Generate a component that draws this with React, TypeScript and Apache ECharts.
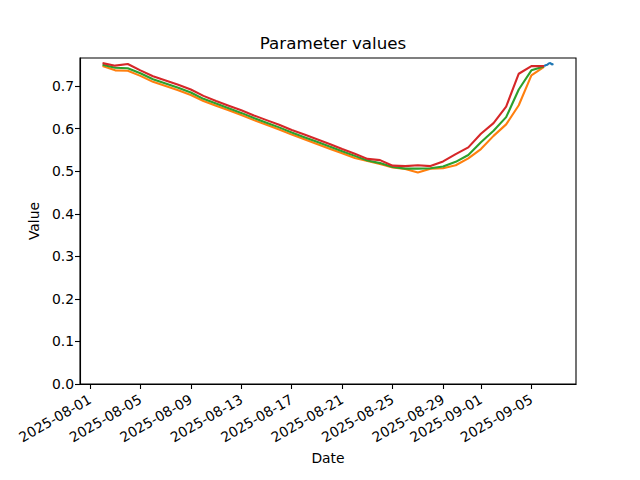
import React, { useEffect, useRef } from "react";
import * as echarts from "echarts";

const dates = [
  "2025-08-02", "2025-08-03", "2025-08-04", "2025-08-05", "2025-08-06", "2025-08-07",
  "2025-08-08", "2025-08-09", "2025-08-10", "2025-08-11", "2025-08-12", "2025-08-13",
  "2025-08-14", "2025-08-15", "2025-08-16", "2025-08-17", "2025-08-18", "2025-08-19",
  "2025-08-20", "2025-08-21", "2025-08-22", "2025-08-23", "2025-08-24", "2025-08-25",
  "2025-08-26", "2025-08-27", "2025-08-28", "2025-08-29", "2025-08-30", "2025-08-31",
  "2025-09-01", "2025-09-02", "2025-09-03", "2025-09-04", "2025-09-05", "2025-09-06",
];

const redValues = [
  0.754, 0.748, 0.752, 0.737, 0.723, 0.713, 0.703, 0.692, 0.677, 0.665, 0.654, 0.643,
  0.631, 0.620, 0.609, 0.597, 0.586, 0.575, 0.564, 0.552, 0.541, 0.529, 0.526, 0.513,
  0.512, 0.514, 0.512, 0.523, 0.540, 0.556, 0.588, 0.613, 0.652, 0.729, 0.747, 0.747,
];

const greenValues = [
  0.750, 0.743, 0.742, 0.730, 0.716, 0.706, 0.696, 0.685, 0.670, 0.659, 0.648, 0.637,
  0.625, 0.614, 0.603, 0.591, 0.580, 0.569, 0.558, 0.547, 0.536, 0.525, 0.519, 0.510,
  0.506, 0.506, 0.507, 0.511, 0.522, 0.538, 0.568, 0.595, 0.627, 0.692, 0.737, 0.746,
];

const orangeValues = [
  0.747, 0.737, 0.736, 0.724, 0.710, 0.700, 0.690, 0.679, 0.665, 0.654, 0.643, 0.632,
  0.620, 0.609, 0.598, 0.586, 0.575, 0.564, 0.553, 0.542, 0.531, 0.524, 0.517, 0.509,
  0.505, 0.497, 0.506, 0.507, 0.514, 0.530, 0.552, 0.583, 0.610, 0.655, 0.725, 0.745,
];

const blueTimes = [
  "2025-09-06 00:00", "2025-09-06 03:00", "2025-09-06 06:00", "2025-09-06 09:00",
  "2025-09-06 12:00", "2025-09-06 15:00", "2025-09-06 18:00",
];
const blueValues = [0.747, 0.749, 0.750, 0.753, 0.754, 0.751, 0.752];

const xTickLabels = [
  "2025-08-01", "2025-08-05", "2025-08-09", "2025-08-13", "2025-08-17",
  "2025-08-21", "2025-08-25", "2025-08-29", "2025-09-01", "2025-09-05",
];

const xAxisMin = "2025-07-31 05:06";
const xAxisMax = "2025-09-08 12:54";
const yAxisMin = 0;
const yAxisMax = 0.766;

function parseTime(s: string): number {
  const [datePart, timePart] = s.split(" ");
  const [y, m, d] = datePart.split("-").map(Number);
  let h = 0;
  let mi = 0;
  if (timePart) {
    [h, mi] = timePart.split(":").map(Number);
  }
  return new Date(y, m - 1, d, h, mi).getTime();
}

function pad(n: number) {
  return n < 10 ? "0" + n : "" + n;
}

const FONT = "DejaVu Sans";

export default function App() {
  const ref = useRef<HTMLDivElement>(null);

  useEffect(() => {
    if (!ref.current) return;
    const chart = echarts.init(ref.current, undefined, { renderer: "svg" });
    const pairs = (ts: string[], vs: number[]) => ts.map((t, i) => [parseTime(t), vs[i]]);
    const tickValues = xTickLabels.map(parseTime);

    const lineStyle = (color: string) => ({ color, width: 2.1 });

    chart.setOption({
      animation: false,
      backgroundColor: "#ffffff",
      textStyle: { fontFamily: FONT },
      title: {
        text: "Parameter values",
        left: 328,
        top: 29,
        textAlign: "center",
        textStyle: { fontFamily: FONT, fontSize: 16.7, fontWeight: "normal", color: "#000" },
      },
      grid: {
        left: 80,
        right: 64,
        top: 58,
        bottom: 96,
        show: true,
        borderColor: "#000",
        borderWidth: 1.1,
        backgroundColor: "transparent",
      },
      xAxis: {
        type: "value",
        min: parseTime(xAxisMin),
        max: parseTime(xAxisMax),
        name: "Date",
        nameLocation: "middle",
        nameGap: 66,
        nameTextStyle: { fontFamily: FONT, fontSize: 13.9, color: "#000" },
        splitLine: { show: false },
        axisLine: { show: true, lineStyle: { color: "#000", width: 1.1 } },
        axisTick: {
          show: true,
          length: 5,
          lineStyle: { color: "#000", width: 1.1 },
          customValues: tickValues,
        },
        axisLabel: {
          customValues: tickValues,
          rotate: 30,
          margin: 14,
          fontFamily: FONT,
          fontSize: 13.9,
          color: "#000",
          hideOverlap: false,
          formatter: (v: number) => {
            const d = new Date(v);
            return d.getFullYear() + "-" + pad(d.getMonth() + 1) + "-" + pad(d.getDate());
          },
        },
      },
      yAxis: {
        type: "value",
        min: yAxisMin,
        max: yAxisMax,
        interval: 0.1,
        name: "Value",
        nameLocation: "middle",
        nameGap: 39,
        nameTextStyle: { fontFamily: FONT, fontSize: 13.9, color: "#000" },
        splitLine: { show: false },
        axisLine: { show: true, lineStyle: { color: "#000", width: 1.1 } },
        axisTick: { show: true, length: 5, lineStyle: { color: "#000", width: 1.1 } },
        axisLabel: {
          showMaxLabel: false,
          margin: 6,
          fontFamily: FONT,
          fontSize: 13.9,
          color: "#000",
          formatter: (v: number) => v.toFixed(1),
        },
      },
      series: [
        {
          name: "Series A",
          type: "line",
          data: pairs(blueTimes, blueValues),
          showSymbol: false,
          lineStyle: lineStyle("#1f77b4"),
          itemStyle: { color: "#1f77b4" },
        },
        {
          name: "Series B",
          type: "line",
          data: pairs(dates, orangeValues),
          showSymbol: false,
          lineStyle: lineStyle("#ff7f0e"),
          itemStyle: { color: "#ff7f0e" },
        },
        {
          name: "Series C",
          type: "line",
          data: pairs(dates, greenValues),
          showSymbol: false,
          lineStyle: lineStyle("#2ca02c"),
          itemStyle: { color: "#2ca02c" },
        },
        {
          name: "Series D",
          type: "line",
          data: pairs(dates, redValues),
          showSymbol: false,
          lineStyle: lineStyle("#d62728"),
          itemStyle: { color: "#d62728" },
        },
      ],
    });

    return () => chart.dispose();
  }, []);

  return (
    <div
      ref={ref}
      style={{ position: "fixed", left: 0, top: 0, width: 640, height: 480, background: "#fff" }}
    />
  );
}
